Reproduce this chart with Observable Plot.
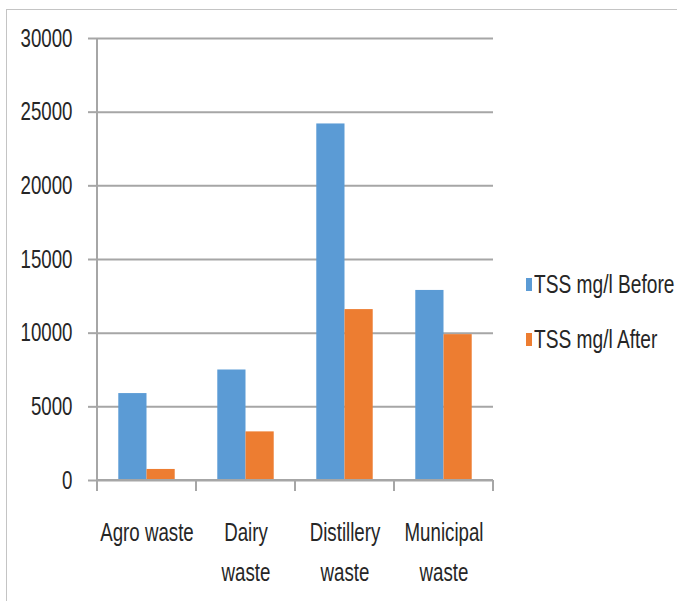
<!DOCTYPE html>
<html>
<head>
<meta charset="utf-8">
<script src="https://cdn.jsdelivr.net/npm/d3@7"></script>
<script src="https://cdn.jsdelivr.net/npm/@observablehq/plot@0.6"></script>
<style>
  html, body { margin: 0; padding: 0; background: #fff; overflow: hidden; }
  #wrap { position: relative; width: 677px; height: 601px; overflow: hidden; }
  #frame { position: absolute; left: 6px; top: 9px; right: -4px; bottom: -4px;
           border-top: 1px solid #c4c4c4; border-left: 1px solid #c4c4c4; pointer-events: none; }
  #legend { position: absolute; left: 526px; top: 271px;
            font-family: "Liberation Sans", Arial, sans-serif;
            font-size: 22px; color: #262626; white-space: nowrap; }
  #legend .item { display: flex; align-items: center; height: 27px; margin-bottom: 28px; }
  #legend .swatch { width: 6px; height: 13px; margin-right: 2px; flex: none; }
  #legend .label { display: inline-block; transform: scale(0.87, 1.15); transform-origin: left center; }
</style>
</head>
<body>
<div id="wrap">
  <div id="chart"></div>
  <div id="legend"></div>
  <div id="frame"></div>
</div>
<script>
// Total suspended solids before and after treatment, per waste type
const categories = ["Agro waste", "Dairy waste", "Distillery waste", "Municipal waste"];
const categoryLabels = ["Agro waste", "Dairy\nwaste", "Distillery\nwaste", "Municipal\nwaste"];
const series = ["TSS mg/l Before", "TSS mg/l After"];
const before = [5900, 7500, 24200, 12900];
const after = [750, 3300, 11600, 9900];
const yTicks = [0, 5000, 10000, 15000, 20000, 25000, 30000];
const colors = ["#5B9BD5", "#ED7D31"];

const rows = categories.flatMap((c, i) => [
  {category: c, series: series[0], value: before[i]},
  {category: c, series: series[1], value: after[i]}
]);

const width = 677, height = 601;
const marginLeft = 97, marginRight = 184, marginTop = 38, marginBottom = 121;
const band = (width - marginLeft - marginRight) / categories.length;
const outer = 0.215 * band, inner = 0.5 * band;
const gray = "#a6a6a6";
const font = "'Liberation Sans', Arial, sans-serif";
// narrow, tall lettering
const textScaleX = 0.85, textScaleY = 1.15;
const labelOf = new Map(categories.map((c, i) => [c, categoryLabels[i]]));

// y axis line plus category boundary ticks along the baseline
function axisLines(index, scales) {
  const {x, y} = scales;
  const step = x(categories[1]) - x(categories[0]);
  const edges = categories.map(c => x(c)).concat(x(categories[categories.length - 1]) + step);
  const y0 = y(0), yTop = y(yTicks[yTicks.length - 1]);
  const g = d3.create("svg:g").attr("stroke", gray).attr("stroke-width", 2);
  g.append("line").attr("x1", edges[0]).attr("x2", edges[0]).attr("y1", yTop).attr("y2", y0 + 11);
  g.append("line").attr("x1", edges[0]).attr("x2", edges[edges.length - 1]).attr("y1", y0).attr("y2", y0);
  for (const e of edges) {
    g.append("line").attr("x1", e).attr("x2", e).attr("y1", y0).attr("y2", y0 + 11);
  }
  return g.node();
}

const chart = Plot.plot({
  width, height, marginLeft, marginRight, marginTop, marginBottom,
  style: {fontFamily: font, color: "#262626", background: "transparent"},
  x: {domain: categories, padding: 0, label: null},
  y: {domain: [0, 30000], label: null},
  color: {domain: series, range: colors},
  marks: [
    Plot.gridY(yTicks, {stroke: gray, strokeOpacity: 1, strokeWidth: 2}),
    Plot.barY(rows.filter(d => d.series === series[0]),
      {x: "category", y: "value", fill: "series", insetLeft: outer, insetRight: inner}),
    Plot.barY(rows.filter(d => d.series === series[1]),
      {x: "category", y: "value", fill: "series", insetLeft: inner, insetRight: outer}),
    axisLines,
    Plot.axisY(yTicks, {tickSize: 9, tickPadding: 16, fontSize: 22, stroke: gray, strokeWidth: 2,
      fill: "#262626", tickFormat: d => String(d), label: null}),
    Plot.axisX({tickSize: 0, tickPadding: 32, fontSize: 22, lineHeight: 1.58,
      fill: "#262626", tickFormat: c => labelOf.get(c), label: null})
  ]
});

// squeeze each label horizontally and stretch it vertically about its own anchor
for (const t of chart.querySelectorAll("text")) {
  const tr = t.getAttribute("transform") || "";
  const xa = t.getAttribute("x"), ya = t.getAttribute("y");
  let tx = 0, ty = 0;
  if (xa && !xa.endsWith("em")) { tx = +xa; t.removeAttribute("x"); }
  if (ya && !ya.endsWith("em")) { ty = +ya; t.removeAttribute("y"); }
  t.setAttribute("transform", `${tr} translate(${tx},${ty}) scale(${textScaleX},${textScaleY})`);
}
document.getElementById("chart").appendChild(chart);

const legend = document.getElementById("legend");
series.forEach((s, i) => {
  const item = document.createElement("div");
  item.className = "item";
  const sw = document.createElement("span");
  sw.className = "swatch";
  sw.style.background = colors[i];
  const t = document.createElement("span");
  t.className = "label";
  t.textContent = s;
  item.append(sw, t);
  legend.appendChild(item);
});
</script>
</body>
</html>
